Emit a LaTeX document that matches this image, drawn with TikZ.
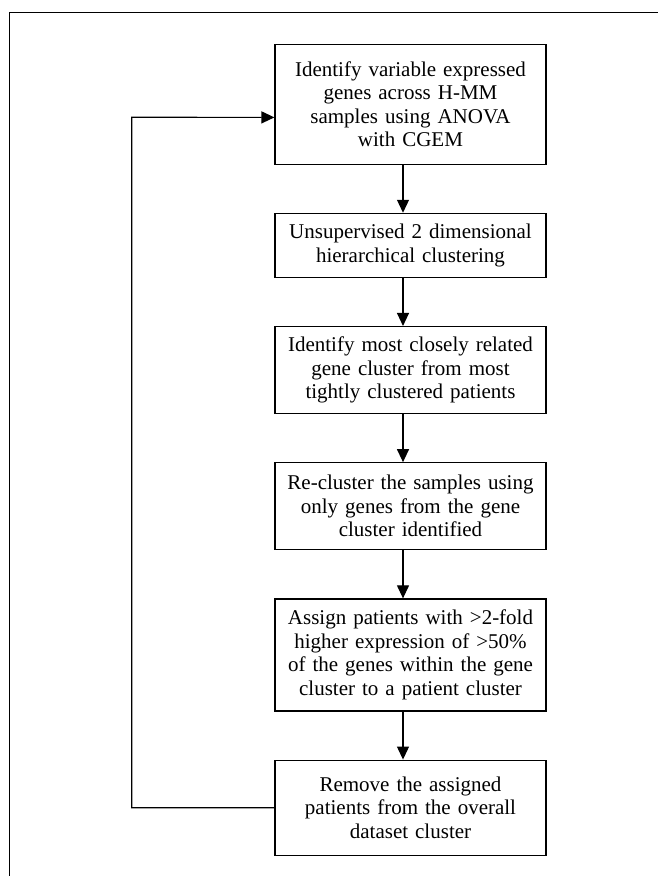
\documentclass[tikz,border=0pt]{standalone}
\usepackage{fontspec}
\setmainfont{Liberation Serif}
\usetikzlibrary{positioning,arrows.meta}

\begin{document}
\begin{tikzpicture}[x=1pt, y=1pt, node distance={48pt}, line width=1.2pt,
    >={Triangle[length=13pt, width=12pt]},
    proc/.style = {draw, rectangle, align=center, text width=251pt, inner xsep=10pt, inner ysep=3pt,
        font=\fontsize{21}{23.5}\selectfont}]
        \useasboundingbox (0,0) rectangle (658,-876);
        \draw[line width=1.4pt] (9.3,-890) -- (9.3,-12.7) -- (670,-12.7);
        \node[proc, minimum height=119.5pt] (1) at (410.5,-104.4) {Identify variable expressed\\genes across H-MM\\samples using ANOVA\\with CGEM};
        \node[proc, minimum height=64pt] [below=of 1] (2) {Unsupervised 2 dimensional\\hierarchical clustering};
        \node[proc, minimum height=87pt] [below=of 2] (3) {Identify most closely related\\gene cluster from most\\tightly clustered patients};
        \node[proc, minimum height=87pt] [below=of 3] (4) {Re-cluster the samples using\\only genes from the gene\\cluster identified};
        \node[proc, minimum height=112pt] [below=of 4] (5) {Assign patients with >2-fold\\higher expression of >50\%\\of the genes within the gene\\cluster to a patient cluster};
        \node[proc, minimum height=95pt] [below=of 5] (6) {Remove the assigned\\patients from the overall\\dataset cluster};
        \draw[->] ([xshift=-7.5pt]1.south) to ([xshift=-7.5pt]1.south |- 2.north);
        \draw[->] ([xshift=-7.5pt]2.south) to ([xshift=-7.5pt]2.south |- 3.north);
        \draw[->] ([xshift=-7.5pt]3.south) to ([xshift=-7.5pt]3.south |- 4.north);
        \draw[->] ([xshift=-7.5pt]4.south) to ([xshift=-7.5pt]4.south |- 5.north);
        \draw[->] ([xshift=-7.5pt]5.south) to ([xshift=-7.5pt]5.south |- 6.north);
        \draw[->] (6.west) -| (131.7,-117.3) to ([yshift=-13pt]1.west);
    \end{tikzpicture}
\end{document}
